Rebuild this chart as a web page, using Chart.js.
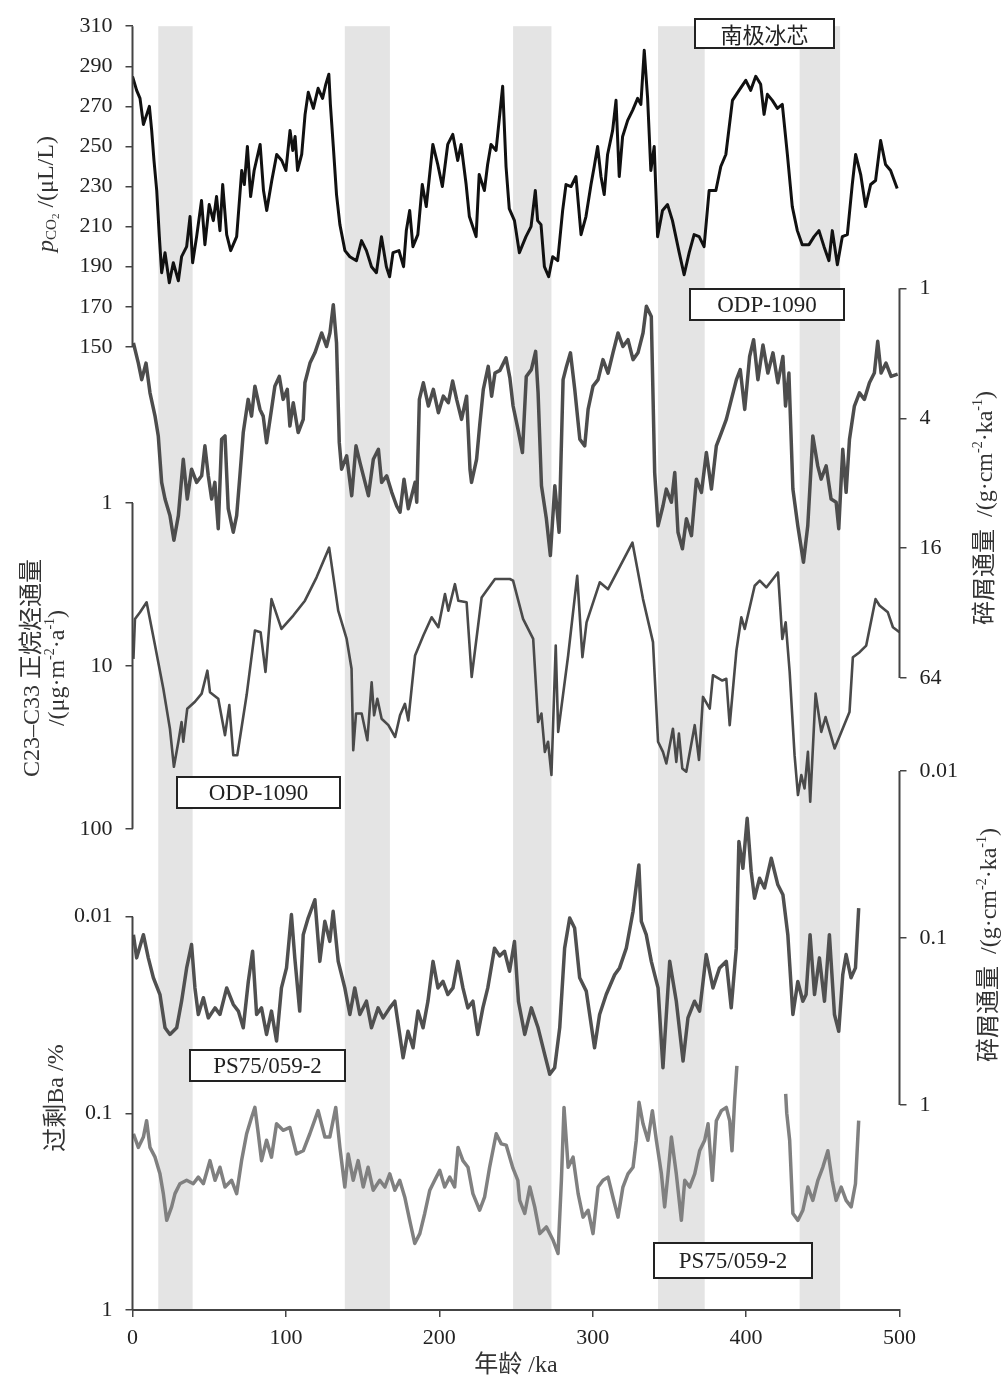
<!DOCTYPE html>
<html lang="zh">
<head>
<meta charset="UTF-8">
<title>南极冰芯 CO2 与 ODP-1090 / PS75/059-2 记录</title>
<script src="https://cdn.jsdelivr.net/npm/chart.js"></script>
<style>
  body { margin: 0; background: #fff; }
  canvas { display: block; }
</style>
</head>
<body>
<canvas id="chart" width="1002" height="1380"></canvas>
<script>
// ---- data: [age ka, value] ----
const ageTicks = [0, 100, 200, 300, 400, 500];
const glacialBands = [[16.8, 39.2], [138.4, 167.8], [248.1, 273.1], [342.6, 373], [434.9, 461.3]];

// Antarctic ice core pCO2, µL/L
const co2Ticks = [310, 290, 270, 250, 230, 210, 190, 170, 150];
const co2Record = [
  [0,285],[2.7,278],[4.9,274],[7.1,261],[9.3,266],[11,270],[12.5,258],[14,243],[15.8,228],[17.5,205],
  [19,187],[21.2,197],[24,182],[26.6,192],[29.9,183],[32,195],[35.3,200],[37.5,215],[39.2,192],[41.8,205],
  [45,223],[47.2,201],[50,221],[52.7,213],[54.8,225],[57,208],[58.8,231],[61.4,206],[64,198],[67.9,205],
  [71.2,238],[72.9,231],[74.9,250],[77,225],[79.3,238],[83.2,251],[85.4,228],[87.5,218],[90.8,233],[94,246],
  [97.3,243],[100,238],[102.7,258],[104.5,248],[106,255],[107.6,238],[110.3,246],[112.5,266],[114.6,277],[117.9,269],
  [121,279],[123.9,274],[126,281],[128,286],[129,271],[130.9,250],[133,226],[135.2,211],[138.5,198],[141.7,195],
  [146,193],[149.3,203],[152.5,198],[155.8,190],[159,187],[162.3,205],[165.5,190],[167.6,185],[169.8,197],[173.7,198],
  [176.7,190],[178.5,208],[180.7,218],[182.8,200],[186,206],[188.9,231],[191.5,220],[194,238],[195.8,251],[199,241],
  [202,230],[205.5,251],[208.8,256],[212,243],[214.2,251],[217.5,231],[219.6,215],[224,205],[226,236],[229.4,228],
  [231.5,241],[233.7,251],[237,248],[241.3,280],[243.5,240],[245.6,219],[249,213],[252.2,197],[256.5,205],[259.8,210],
  [262.6,228],[264.1,213],[266.3,211],[268.5,190],[271.3,185],[273.9,195],[277.2,193],[280.4,218],[282.6,231],[285.9,230],
  [289.1,235],[292.4,206],[295.6,215],[298.9,231],[301,240],[303.2,250],[305.4,235],[307.5,226],[309.7,246],[313,258],
  [315.2,273],[317.3,235],[319.5,255],[322.8,263],[326,268],[329.3,274],[331.4,271],[333.6,298],[335.8,274],[337.9,238],
  [340.1,250],[342.3,205],[345.5,218],[348.8,221],[352,213],[356.4,197],[359.6,186],[362.9,197],[366.1,206],[369.4,205],
  [372.6,200],[375.9,228],[380.3,228],[383.5,240],[386.8,246],[391.1,273],[395.4,278],[399.8,283],[403,278],[406.3,285],
  [409.5,281],[411.7,266],[413.9,276],[417.1,273],[420.4,269],[423.6,271],[426.9,246],[430.1,220],[433.4,208],[436.6,201],
  [441,201],[444.3,205],[447.5,208],[450.8,200],[454,193],[456.2,208],[459.5,191],[462.7,205],[466,206],[469.2,231],
  [471.4,246],[474.7,236],[477.9,220],[481.2,231],[484.4,233],[487.7,253],[490.9,241],[494.2,238],[498.5,229]
];

// ODP-1090 lithogenic (debris) flux, g·cm-2·ka-1
const odpDebrisTicks = [1, 4, 16, 64];
const odpDebrisRecord = [
  [0.6,1.79],[3.8,2.22],[6,2.65],[8.8,2.22],[11.4,3.05],[14.7,3.91],[16.8,4.83],[19,7.93],[21.2,9.47],[24.4,11.3],
  [27,14.7],[29.9,11.3],[33.1,6.2],[35.7,9.47],[38.5,6.89],[41.8,7.93],[45.1,7.39],[47.2,5.37],[49.4,7.39],[51.6,9.47],
  [53.7,7.93],[55.9,13],[58.1,5],[60.3,4.83],[62.4,10.5],[65.7,13.5],[67.9,11.3],[70,7.39],[72.2,4.66],[75.4,3.27],
  [77.6,3.91],[79.8,2.84],[83.1,3.64],[85.2,3.91],[87.4,5.19],[90.6,3.64],[92.8,2.84],[95.7,2.56],[98.2,3.27],[100.9,2.94],
  [102.6,4.35],[104.8,3.39],[108,4.66],[111.3,4.05],[112.4,2.74],[115.7,2.22],[118.9,1.99],[123.3,1.61],[126.5,1.86],[128.7,1.61],
  [130.9,1.19],[133,1.79],[134.8,5.19],[136.3,6.89],[139.6,5.97],[142.9,9.14],[145.7,5.37],[148.3,6.42],[151.6,7.93],[153.8,9.14],
  [157,6.2],[160.3,5.57],[162.4,7.93],[165.7,7.39],[169,8.82],[172.2,10.2],[174.4,10.9],[177,7.66],[179.8,10.5],[184.2,7.93],
  [185.3,9.8],[187,3.27],[189.6,2.74],[192.9,3.51],[196.1,2.94],[199.4,3.77],[202.6,3.16],[205.9,3.39],[208.7,2.69],[211.3,3.27],
  [214.5,4.05],[217.8,3.16],[220,6.89],[221,7.93],[224.3,6.2],[226.5,4.19],[228.7,2.94],[231.9,2.3],[234.1,3.16],[236.3,2.47],
  [239.5,2.4],[243.5,2.1],[246,2.6],[248.1,3.51],[251.3,4.5],[254.2,5.77],[256.7,2.56],[260,2.38],[262.8,1.96],[264.4,3.05],
  [266.6,8.22],[269.8,11.7],[272.4,17.3],[275.3,8.22],[278.1,13.5],[280.7,2.65],[282.9,2.3],[285.5,1.99],[288.3,2.94],[291.6,5],
  [294.8,5.37],[297,3.64],[300.2,2.84],[303.5,2.65],[306.7,2.14],[310,2.47],[313.2,1.99],[316.5,1.61],[319.7,1.86],[323,1.73],
  [326.3,2.14],[329.5,1.99],[332.8,1.61],[335,1.21],[338.2,1.35],[340.4,7.14],[342.6,12.6],[345.8,10.2],[348,8.52],[351.3,9.8],
  [353.5,7.14],[355.6,13.5],[358.5,16.1],[361.1,11.7],[364.4,14],[367.6,7.66],[370.9,8.82],[374.1,5.77],[377.4,8.52],[380.6,5.37],
  [383.9,4.66],[387.1,4.05],[390.4,3.27],[393.7,2.65],[396.2,2.38],[399.1,3.64],[402.3,2.07],[404.9,1.73],[407.7,2.65],[411,1.83],
  [414.2,2.47],[417.5,1.99],[420.7,2.74],[424,2.07],[425.7,3.51],[427.9,2.47],[430.5,8.52],[433.7,12.6],[437.4,18.6],[440.2,12.6],
  [443.5,4.83],[446.7,6.65],[448.9,7.66],[452.2,6.65],[455.4,9.47],[458.7,9.8],[460.4,13],[463,5.57],[465.2,8.82],[467.4,5],
  [470.6,3.51],[473.9,3.05],[477.1,3.27],[480.4,2.74],[483.6,2.47],[485.8,1.76],[488,2.47],[491.2,2.22],[494.5,2.56],[498.8,2.5]
];

// ODP-1090 C23-C33 n-alkane flux, µg·m-2·a-1
const alkaneTicks = [1, 10, 100];
const alkaneRecord = [
  [0.6,9.05],[1.6,5.15],[4.9,4.69],[9.2,4.07],[14.7,7.5],[20.1,13.8],[24.4,24.3],[27,41.6],[29.9,29.2],[32,22.1],
  [33.1,29.2],[35.7,18.3],[40.7,16.6],[45.1,14.8],[48.8,10.7],[50.5,14.5],[55.9,15.9],[60.3,26.6],[63.1,17.4],[65.7,35.3],
  [68.3,35.3],[74.4,15.1],[79.8,6.07],[83.5,6.21],[86.7,10.9],[90.6,3.89],[97.1,5.93],[104.8,4.91],[112.4,3.98],[120,2.86],
  [128.2,1.88],[134.1,4.58],[139.6,6.83],[142.8,10.4],[143.9,32.9],[145.7,19.6],[149.4,19.6],[153.1,28.6],[155.9,12.6],[157.5,20.1],
  [159.6,15.9],[162.4,21.1],[166.8,23.1],[171.2,27.3],[174.4,20.1],[177.6,17.1],[179.8,21.6],[184.2,8.63],[189.6,6.5],[195,5.03],
  [199.4,5.79],[203.7,3.62],[205.9,4.58],[210.2,3.15],[212.4,3.98],[217.8,4.07],[221.1,11.7],[227.6,3.8],[236.3,2.93],[246,2.93],
  [248.1,3],[254.6,5.15],[261.2,6.83],[264.4,22.1],[266.6,19.6],[268.8,33.7],[270.9,29.2],[273.1,46.7],[275.9,7.5],[277.5,25.4],
  [284,8.63],[289.9,2.8],[293.3,8.84],[296,5.4],[304.6,3.07],[310,3.38],[325.9,1.75],[332.8,3.89],[339.3,7.15],[342.6,29.2],
  [345.8,33.7],[348,39.7],[352.3,24.3],[354.5,38.8],[356.2,26],[358.4,42.6],[361,44.6],[366.5,23.1],[369.3,37.8],[371.9,15.5],
  [376.3,18.3],[378.4,11.4],[384.5,12.3],[387.1,12],[389.3,23.1],[393.7,8.04],[396.9,5.03],[399.1,5.93],[405.6,3.22],[408.9,3],
  [413.2,3.3],[420.8,2.67],[423.6,6.83],[425.8,5.4],[428.4,10.9],[431.6,35.3],[433.8,62],[436,46.7],[438.1,56.5],[440.3,33.7],
  [441.8,68],[445.3,14.8],[449,25.4],[451.8,20.6],[457.7,32.1],[467.4,19.2],[469.6,8.84],[474,8.24],[478.3,7.5],[484.4,3.89],
  [487,4.26],[492.4,4.69],[495.7,5.79],[500,6.21]
];

// PS75/059-2 lithogenic (debris) flux, g·cm-2·ka-1
const psDebrisTicks = [0.01, 0.1, 1];
const psDebrisRecord = [
  [0.6,0.0955],[2.7,0.1315],[7.1,0.0955],[10.3,0.1315],[13.6,0.173],[17.9,0.218],[21.2,0.345],[24.4,0.378],[28.8,0.345],[32,0.239],
  [35.3,0.151],[38.5,0.1094],[40.7,0.199],[42.9,0.287],[46.2,0.228],[49.4,0.301],[53.8,0.262],[57,0.287],[61.4,0.199],[65.7,0.25],
  [69,0.274],[72.2,0.345],[75.5,0.182],[78.3,0.12],[80.9,0.287],[84.1,0.262],[87.4,0.378],[90.6,0.274],[93.9,0.414],[97.1,0.199],
  [100.4,0.151],[103.6,0.0724],[105.8,0.1315],[109,0.274],[111.3,0.0955],[114.5,0.0759],[118.9,0.059],[122.1,0.138],[125.4,0.0794],[128.6,0.1047],
  [130.8,0.0692],[134.1,0.138],[138.4,0.199],[141.7,0.287],[144.9,0.199],[148.2,0.287],[152.5,0.239],[155.8,0.345],[160.1,0.262],[163.4,0.301],
  [167.7,0.262],[171,0.239],[174.2,0.378],[176.4,0.521],[179.6,0.362],[182.9,0.454],[186.1,0.274],[189.4,0.345],[192.6,0.239],[195.9,0.138],
  [199.1,0.199],[202.4,0.182],[205.6,0.218],[208.9,0.199],[212.1,0.138],[215.4,0.199],[218.6,0.262],[221.9,0.239],[225.1,0.378],[228.4,0.262],
  [231.6,0.199],[236,0.115],[239.3,0.128],[242.5,0.12],[245.8,0.158],[249,0.105],[251.6,0.24],[255.7,0.378],[260,0.262],[264.4,0.345],
  [268.7,0.498],[272,0.655],[275.2,0.598],[278.5,0.345],[281.7,0.115],[285,0.0759],[288.2,0.0871],[291.5,0.173],[295.8,0.208],[301.2,0.454],
  [304.5,0.287],[308.8,0.218],[314.3,0.166],[317.5,0.151],[321.9,0.115],[326.3,0.0692],[330.1,0.0365],[331.7,0.0794],[334.9,0.0955],[338.2,0.138],
  [342.6,0.199],[345.8,0.598],[350.2,0.138],[354.5,0.239],[358.9,0.546],[362.1,0.301],[366.4,0.239],[369.7,0.274],[374,0.1256],[378.4,0.199],
  [382.7,0.151],[387.1,0.138],[390.3,0.262],[393.6,0.115],[395.3,0.0264],[397.9,0.0382],[400.7,0.0192],[403.3,0.0399],[405.5,0.0577],[408.8,0.0438],
  [412,0.0502],[416.4,0.0333],[420.7,0.048],[424,0.0551],[427.2,0.0955],[430.5,0.287],[433.7,0.182],[437,0.239],[439.1,0.218],[441.7,0.0955],
  [444.6,0.218],[447.8,0.1315],[451.1,0.239],[454.3,0.0955],[457.6,0.287],[460.4,0.362],[463,0.166],[465.2,0.1256],[468.4,0.173],[471.3,0.151],
  [473.4,0.0662]
];

// PS75/059-2 excess Ba, %
const baTicks = [0.01, 0.1, 1];
const baRecord = [
  [0.6,0.127],[3.8,0.149],[7.1,0.132],[9.2,0.109],[11.4,0.149],[14.7,0.167],[17.9,0.203],[20.1,0.256],[22.3,0.35],[25.5,0.299],
  [27.7,0.256],[30.9,0.228],[35.3,0.219],[39.6,0.228],[42.9,0.211],[46.2,0.228],[50.5,0.174],[53.8,0.219],[57,0.188],[60.3,0.237],
  [64.6,0.219],[67.9,0.256],[71.1,0.174],[74.4,0.127],[77.6,0.105],[79.8,0.0933],[82,0.127],[84.1,0.174],[87.4,0.137],[90.6,0.167],
  [93.9,0.113],[98.2,0.122],[102.6,0.118],[106.9,0.161],[111.3,0.155],[115.6,0.127],[121,0.0969],[125.4,0.132],[128.6,0.132],[132.5,0.0933],
  [135.2,0.149],[138.4,0.237],[140.6,0.161],[143.9,0.219],[147.1,0.174],[150.4,0.237],[153.6,0.188],[156.9,0.246],[161.2,0.219],[164.5,0.237],
  [167.7,0.203],[171,0.246],[174.2,0.219],[177.5,0.267],[180.7,0.35],[184,0.459],[187.3,0.409],[190.5,0.323],[193.8,0.246],[197,0.219],
  [200.3,0.195],[203.5,0.237],[206.8,0.211],[210,0.237],[212.2,0.149],[215.4,0.174],[218.7,0.188],[221.9,0.256],[226.3,0.311],[229.5,0.267],
  [232.8,0.188],[237.1,0.127],[240.4,0.143],[243.6,0.145],[248,0.19],[251.2,0.219],[252.4,0.277],[255.7,0.323],[259,0.237],[262.2,0.299],
  [265.5,0.409],[269.8,0.378],[274.2,0.442],[277.4,0.516],[279.6,0.219],[281.3,0.0933],[284,0.188],[287.2,0.167],[290.5,0.256],[293.7,0.337],
  [297,0.311],[300.2,0.409],[303.5,0.237],[306.7,0.219],[310,0.211],[313.2,0.267],[316.5,0.337],[319.7,0.237],[323,0.203],[326.3,0.188],
  [328.4,0.137],[330.2,0.0879],[332.8,0.113],[336,0.137],[338.9,0.0969],[341.5,0.137],[344.8,0.203],[346.9,0.299],[349.1,0.203],[351.3,0.132],
  [354.5,0.203],[357.8,0.35],[360,0.219],[363.2,0.237],[366.5,0.203],[369.7,0.155],[373,0.137],[375.2,0.113],[378,0.219],[380.6,0.109],
  [383.9,0.0969],[387.1,0.0933],[389.3,0.109],[390.8,0.155],[392.5,0.0863],[394,0.0573],[410,null],
  [425.8,0.0797],[426.5,0.0998],[428.4,0.137],[430.5,0.323],[433.8,0.35],[437,0.311],[440.3,0.237],[443.5,0.277],[446.8,0.219],[450,0.188],
  [453.3,0.155],[456.1,0.219],[458.7,0.277],[462,0.237],[465.2,0.277],[468.5,0.299],[471.3,0.228],[473.4,0.109]
];

// ---- layout: plot box in canvas pixels, and where each axis' reference ticks sit ----
const PLOT = {left: 132.5, right: 899.5, top: 22, bottom: 1310};

function linRange(v1, y1, v2, y2) {
  const k = (v2 - v1) / (y2 - y1);
  return {max: v1 + (PLOT.top - y1) * k, min: v1 + (PLOT.bottom - y1) * k};
}
// reversed log axis: small values at top
function logRange(v1, y1, v2, y2) {
  const a = Math.log10(v1), k = (Math.log10(v2) - a) / (y2 - y1);
  return {min: Math.pow(10, a + (PLOT.top - y1) * k), max: Math.pow(10, a + (PLOT.bottom - y1) * k)};
}

const co2Range = linRange(310, 22, 170, 303.5);
const alkaneRange = logRange(1, 500.3, 100, 827.3);
const baRange = logRange(0.1, 1112.7, 1, 1310);
const odpRange = logRange(1, 285, 64, 676);
const psRange = logRange(0.01, 769.3, 1, 1104.3);

const SERIF = '"Liberation Serif", "Times New Roman", "Noto Sans CJK SC", serif';
const AXIS_COLOR = '#444';
const tickFont = {family: SERIF, size: 22};

function yAxis(position, range, ticks, type, reverse) {
  return {
    type: type,
    position: position,
    reverse: reverse,
    min: range.min,
    max: range.max,
    afterFit: s => { s.width = 0; },
    afterBuildTicks: s => { s.ticks = ticks.map(v => ({value: v})); },
    border: {display: false},
    grid: {drawOnChartArea: false, drawTicks: true, tickLength: 7, color: AXIS_COLOR, lineWidth: 1.5},
    ticks: {autoSkip: false, padding: 13, color: '#222', font: tickFont, callback: v => String(v)}
  };
}

function series(label, rec, axis, color, width) {
  return {
    label: label,
    data: rec.map(p => ({x: p[0], y: p[1]})),
    xAxisID: 'x',
    yAxisID: axis,
    borderColor: color,
    borderWidth: width,
    borderJoinStyle: 'round',
    pointRadius: 0,
    tension: 0,
    fill: false,
    spanGaps: false
  };
}

// axis line segments: [scale id, from value, to value]
const axisSegments = [
  ['yCO2', 310, 150], ['yAlkane', 1, 100], ['yBa', 0.01, 1],
  ['yOdp', 1, 64], ['yPs', 0.01, 1]
];

// draw a rotated line made of runs with own font / vertical shift
function drawRich(ctx, runs, cx, cy) {
  ctx.save();
  ctx.translate(cx, cy);
  ctx.rotate(-Math.PI / 2);
  ctx.textBaseline = 'middle';
  ctx.textAlign = 'left';
  let total = 0;
  runs.forEach(r => { ctx.font = r.font; r.w = ctx.measureText(r.t).width; total += r.w; });
  let x = -total / 2;
  runs.forEach(r => {
    ctx.font = r.font;
    ctx.fillStyle = '#333';
    ctx.fillText(r.t, x, r.dy || 0);
    x += r.w;
  });
  ctx.restore();
}

const big = '24px ' + SERIF;
const sup = '14px ' + SERIF;
const unitRuns = () => [
  {t: '碎屑通量  /(g·cm', font: big}, {t: '-2', font: sup, dy: -8},
  {t: '·ka', font: big}, {t: '-1', font: sup, dy: -8}, {t: ')', font: big}
];

const decorations = {
  id: 'decorations',
  // all y scales share the plot edge; give them the full margin so their labels are not clipped
  afterLayout(chart) {
    const a = chart.chartArea;
    Object.values(chart.scales).forEach(s => {
      if (s.position === 'left') { s.left = 0; s.right = a.left; s.width = a.left; }
      else if (s.position === 'right') { s.left = a.right; s.right = chart.width; s.width = chart.width - a.right; }
      else if (s.position === 'bottom') { s.top = a.bottom; s.bottom = chart.height; s.height = chart.height - a.bottom; }
    });
  },
  beforeDraw(chart) {
    const {ctx, chartArea: a} = chart;
    const xs = chart.scales.x;
    ctx.save();
    ctx.fillStyle = '#fff';
    ctx.fillRect(0, 0, chart.width, chart.height);
    ctx.fillStyle = '#e4e4e4';
    glacialBands.forEach(([s, e]) => {
      const x1 = xs.getPixelForValue(s), x2 = xs.getPixelForValue(e);
      ctx.fillRect(x1, a.top, x2 - x1, a.bottom - a.top);
    });
    ctx.restore();
  },
  afterDraw(chart) {
    const {ctx, chartArea: a} = chart;
    ctx.save();
    // y axis lines, each only over its own range
    ctx.strokeStyle = AXIS_COLOR;
    ctx.lineWidth = 2;
    axisSegments.forEach(([id, v1, v2]) => {
      const s = chart.scales[id];
      const x = s.position === 'left' ? a.left : a.right;
      ctx.beginPath();
      ctx.moveTo(x, s.getPixelForValue(v1));
      ctx.lineTo(x, s.getPixelForValue(v2));
      ctx.stroke();
    });

    // axis titles
    drawRich(ctx, [
      {t: 'p', font: 'italic ' + big}, {t: 'CO', font: '15px ' + SERIF, dy: 5},
      {t: '2', font: '11px ' + SERIF, dy: 9}, {t: ' /(μL/L)', font: big}
    ], 47, 194);
    drawRich(ctx, [{t: 'C23–C33 正烷烃通量', font: big}], 33, 668);
    drawRich(ctx, [
      {t: '/(μg·m', font: big}, {t: '-2', font: sup, dy: -8},
      {t: '·a', font: big}, {t: '-1', font: sup, dy: -8}, {t: ')', font: big}
    ], 58, 668);
    drawRich(ctx, [{t: '过剩Ba /%', font: big}], 57, 1098);
    drawRich(ctx, unitRuns(), 986, 508);
    drawRich(ctx, unitRuns(), 990, 945);

    ctx.font = big;
    ctx.fillStyle = '#333';
    ctx.textAlign = 'center';
    ctx.textBaseline = 'middle';
    ctx.fillText('年龄 /ka', (a.left + a.right) / 2, 1366);

    // record labels in boxes
    const boxes = [
      ['南极冰芯', 695, 19, 139, 29, '22px "Noto Sans CJK SC", sans-serif'],
      ['ODP-1090', 690, 289, 154, 31, '23px ' + SERIF],
      ['ODP-1090', 177, 777, 163, 31, '23px ' + SERIF],
      ['PS75/059-2', 190, 1050, 155, 31, '23px ' + SERIF],
      ['PS75/059-2', 654, 1243, 158, 35, '23px ' + SERIF]
    ];
    boxes.forEach(([t, x, y, w, h, f]) => {
      ctx.fillStyle = '#fff';
      ctx.fillRect(x, y, w, h);
      ctx.strokeStyle = '#222';
      ctx.lineWidth = 2;
      ctx.strokeRect(x, y, w, h);
      ctx.fillStyle = '#222';
      ctx.font = f;
      ctx.fillText(t, x + w / 2, y + h / 2 + 1);
    });
    ctx.restore();
  }
};

new Chart(document.getElementById('chart'), {
  type: 'line',
  data: {
    datasets: [
      series('南极冰芯 pCO2', co2Record, 'yCO2', '#111', 3),
      series('ODP-1090 碎屑通量', odpDebrisRecord, 'yOdp', '#4d4d4d', 3.5),
      series('ODP-1090 C23-C33 正烷烃通量', alkaneRecord, 'yAlkane', '#4a4a4a', 2.6),
      series('PS75/059-2 碎屑通量', psDebrisRecord, 'yPs', '#505050', 3.5),
      series('PS75/059-2 过剩Ba', baRecord, 'yBa', '#808080', 3.5)
    ]
  },
  options: {
    responsive: false,
    animation: false,
    events: [],
    layout: {padding: {left: PLOT.left, right: 1002 - PLOT.right, top: PLOT.top, bottom: 1380 - PLOT.bottom}},
    plugins: {legend: {display: false}, tooltip: {enabled: false}},
    scales: {
      x: {
        type: 'linear',
        position: 'bottom',
        min: 0,
        max: 500,
        afterFit: s => { s.height = 0; },
        afterBuildTicks: s => { s.ticks = ageTicks.map(v => ({value: v})); },
        border: {display: true, color: AXIS_COLOR, width: 2},
        grid: {drawOnChartArea: false, drawTicks: true, tickLength: 7, color: AXIS_COLOR, lineWidth: 1.5},
        ticks: {autoSkip: false, maxRotation: 0, padding: 8, color: '#222', font: tickFont}
      },
      yCO2: yAxis('left', co2Range, co2Ticks, 'linear', false),
      yAlkane: yAxis('left', alkaneRange, alkaneTicks, 'logarithmic', true),
      yBa: yAxis('left', baRange, baTicks, 'logarithmic', true),
      yOdp: yAxis('right', odpRange, odpDebrisTicks, 'logarithmic', true),
      yPs: yAxis('right', psRange, psDebrisTicks, 'logarithmic', true)
    }
  },
  plugins: [decorations]
});
</script>
</body>
</html>
